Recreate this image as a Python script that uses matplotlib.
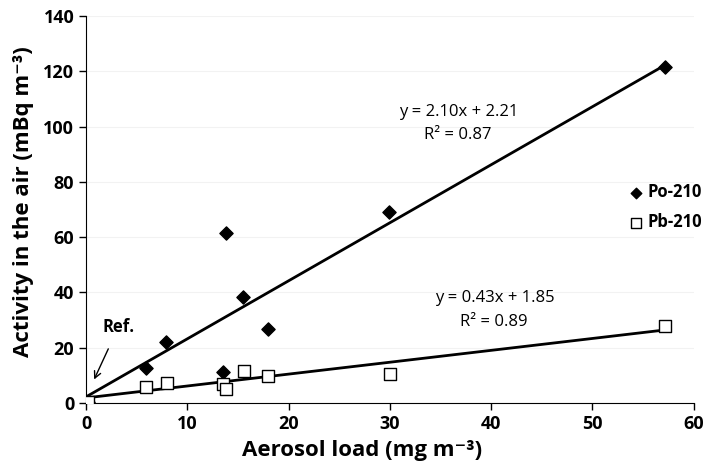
import numpy as np
import matplotlib.pyplot as plt

# data
aerosol_po = [0.2, 5.9, 7.9, 13.5, 13.8, 15.5, 18.0, 29.9, 57.2]
po210 = [0.5, 12.7, 22.0, 11.2, 61.5, 38.3, 26.8, 69.0, 121.5]
aerosol_pb = [0.2, 5.9, 8.0, 13.5, 13.8, 15.6, 18.0, 30.0, 57.2]
pb210 = [0.5, 5.8, 7.2, 6.9, 5.0, 11.6, 9.8, 10.5, 27.8]

fit_po = (2.10, 2.21, 0.87)
fit_pb = (0.43, 1.85, 0.89)
x_fit = [0, 57]

plt.rcParams['font.family'] = ['Open Sans', 'DejaVu Sans']

fig = plt.figure(figsize=(7.05, 4.73), dpi=100)
ax = fig.add_axes([0.122, 0.148, 0.862, 0.818])

for sl, ic, _ in (fit_po, fit_pb):
    xf = np.array(x_fit)
    ax.plot(xf, sl * xf + ic, color='black', lw=2, zorder=2)

ax.scatter(aerosol_po, po210, marker='D', s=45, color='black', zorder=3, label='Po-210')
ax.scatter(aerosol_pb, pb210, marker='s', s=70, facecolor='white', edgecolor='black',
           linewidths=1, zorder=3, label='Pb-210')

ax.text(36.8, 105.3, f'y = {fit_po[0]:.2f}x + {fit_po[1]:.2f}', ha='center', va='center', fontsize=12)
ax.text(36.7, 97.0, f'R² = {fit_po[2]:.2f}', ha='center', va='center', fontsize=12)
ax.text(40.4, 38.0, f'y = {fit_pb[0]:.2f}x + {fit_pb[1]:.2f}', ha='center', va='center', fontsize=12)
ax.text(40.3, 29.3, f'R² = {fit_pb[2]:.2f}', ha='center', va='center', fontsize=12)

ax.annotate('Ref.', xy=(0.8, 8.5), xytext=(3.2, 27.5), ha='center', va='center',
            fontsize=12, fontweight='bold',
            arrowprops=dict(arrowstyle='->', color='black', lw=1, shrinkA=8, shrinkB=0))

ax.set_xlim(0, 60)
ax.set_ylim(0, 140)
ax.set_xticks(range(0, 61, 10))
ax.set_yticks(range(0, 141, 20))
ax.grid(axis='y', color='#f2f2f2', lw=0.8)
ax.set_axisbelow(True)
for s in ('top', 'right'):
    ax.spines[s].set_visible(False)
ax.tick_params(labelsize=13, direction='out', length=5, width=1)
for lab in ax.get_xticklabels() + ax.get_yticklabels():
    lab.set_fontweight('bold')

ax.set_xlabel('Aerosol load (mg m⁻³)', fontsize=16, fontweight='bold', labelpad=4)
ax.xaxis.set_label_coords(0.455, -0.095)
ax.set_ylabel('Activity in the air (mBq m⁻³)', fontsize=16, fontweight='bold', labelpad=6)
ax.yaxis.set_label_coords(-0.085, 0.52)

leg = ax.legend(loc='center left', bbox_to_anchor=(0.88, 0.506), frameon=False,
                prop={'weight': 'bold', 'size': 12}, handletextpad=0.3, markerscale=0.8,
                handlelength=0.8, borderpad=0, labelspacing=0.75)

fig.savefig('out.png', dpi=100)
